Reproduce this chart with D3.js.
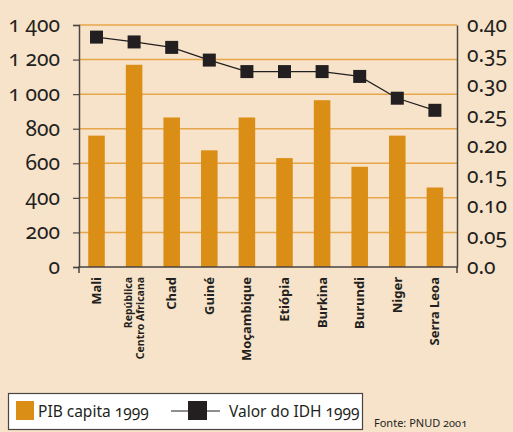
<!DOCTYPE html>
<html>
<head>
<meta charset="utf-8">
<script src="https://cdn.jsdelivr.net/npm/d3@7"></script>
<style>
  body { margin: 0; background: #f7e3c9; }
  svg { display: block; font-family: "Noto Sans", "Open Sans", sans-serif; }
  .num { font-family: "Noto Sans", sans-serif; font-variant-numeric: oldstyle-nums; font-feature-settings: "onum" 1; }
</style>
</head>
<body>
<div id="chart"></div>
<script>
// Chart data
const countries = ["Mali", "República|Centro Africana", "Chad", "Guiné", "Moçambique", "Etiópia", "Burkina", "Burundi", "Niger", "Serra Leoa"];
const pibCapita = [760, 1170, 865, 675, 865, 630, 965, 580, 760, 460];
const idh = [0.380, 0.372, 0.363, 0.342, 0.323, 0.323, 0.323, 0.315, 0.279, 0.259];
const leftTicks = [0, 200, 400, 600, 800, 1000, 1200, 1400];
const leftTickLabels = ["0", "200", "400", "600", "800", "1 000", "1 200", "1 400"];
const rightTicks = [0, 0.05, 0.10, 0.15, 0.20, 0.25, 0.30, 0.35, 0.40];
const rightTickLabels = ["0.0", "0.05", "0.10", "0.15", "0.20", "0.25", "0.30", "0.35", "0.40"];

const W = 513, H = 432;
const plot = { left: 79, right: 457, top: 25, bottom: 267 };

const svg = d3.select("#chart").append("svg")
  .attr("width", W).attr("height", H);

// scales
const x = d3.scaleBand()
  .domain(countries)
  .range([77.7, 453.7])
  .paddingInner(0.56)
  .paddingOuter(0.28);

const yLeft = d3.scaleLinear().domain([0, 1400]).range([plot.bottom, plot.top]);
const yRight = d3.scaleLinear().domain([0, 0.4]).range([plot.bottom, plot.top]);

// gridlines
svg.append("g")
  .selectAll("line")
  .data(leftTicks.slice(1))
  .enter()
  .append("line")
  .attr("x1", plot.left).attr("x2", plot.right)
  .attr("y1", d => yLeft(d)).attr("y2", d => yLeft(d))
  .attr("stroke", "#e8a64a")
  .attr("stroke-width", 1.5);

// bars
svg.append("g")
  .selectAll("rect")
  .data(countries)
  .enter()
  .append("rect")
  .attr("x", d => x(d))
  .attr("width", x.bandwidth())
  .attr("y", (d, i) => yLeft(pibCapita[i]))
  .attr("height", (d, i) => yLeft(0) - yLeft(pibCapita[i]))
  .attr("fill", "#db8e16");

// left axis
const leftAxis = svg.append("g")
  .attr("transform", `translate(${plot.left},0)`)
  .call(d3.axisLeft(yLeft).tickValues(leftTicks).tickSize(6).tickFormat((d, i) => leftTickLabels[i]));
leftAxis.attr("font-family", null).attr("font-size", null);
leftAxis.select(".domain").attr("stroke", "#4a4443").attr("stroke-width", 1.5);
leftAxis.selectAll(".tick line").attr("stroke", "#4a4443").attr("stroke-width", 1.2);
leftAxis.selectAll(".tick text")
  .attr("class", "num")
  .attr("x", -19)
  .attr("dy", "0.3em")
  .style("font-size", "21px")
  .style("fill", "#231f20");

// right axis
const rightAxis = svg.append("g")
  .attr("transform", `translate(${plot.right},0)`)
  .call(d3.axisRight(yRight).tickValues(rightTicks).tickSize(0).tickFormat((d, i) => rightTickLabels[i]));
rightAxis.attr("font-family", null).attr("font-size", null);
rightAxis.select(".domain").attr("stroke", "#4a4443").attr("stroke-width", 1.5);
rightAxis.selectAll(".tick text")
  .attr("class", "num")
  .attr("x", 10)
  .attr("dy", "0.3em")
  .style("font-size", "21px")
  .style("fill", "#231f20");

// bottom axis
const bottomAxis = svg.append("g")
  .attr("transform", `translate(0,${plot.bottom})`);
bottomAxis.append("path")
  .attr("d", `M${plot.left},6V0H${plot.right}V6`)
  .attr("fill", "none")
  .attr("stroke", "#4a4443")
  .attr("stroke-width", 1.5);

// category labels (rotated)
countries.forEach((c, i) => {
  const parts = c.split("|");
  const cx = x(c) + x.bandwidth() / 2;
  const g = svg.append("g")
    .attr("transform", `translate(${cx},${plot.bottom + 10}) rotate(-90)`);
  if (parts.length === 1) {
    g.append("text")
      .attr("text-anchor", "end")
      .attr("dy", "0.35em")
      .style("font-size", "13px")
      .style("font-weight", "bold")
      .style("fill", "#231f20")
      .text(parts[0]);
  } else {
    parts.forEach((p, j) => {
      g.append("text")
        .attr("text-anchor", "end")
        .attr("y", (j - 0.5) * 12.5)
        .attr("dy", "0.35em")
        .style("font-size", "10.5px")
        .style("font-weight", "bold")
        .style("fill", "#231f20")
        .text(p);
    });
  }
});

// IDH line
const line = d3.line()
  .x((d, i) => x(countries[i]) + x.bandwidth() / 2)
  .y(d => yRight(d));

svg.append("path")
  .datum(idh)
  .attr("d", line)
  .attr("fill", "none")
  .attr("stroke", "#231f20")
  .attr("stroke-width", 1.2);

const ms = 13;
svg.append("g")
  .selectAll("rect")
  .data(idh)
  .enter()
  .append("rect")
  .attr("x", (d, i) => x(countries[i]) + x.bandwidth() / 2 - ms / 2)
  .attr("y", d => yRight(d) - ms / 2)
  .attr("width", ms).attr("height", ms)
  .attr("fill", "#231f20");

// legend
const legend = svg.append("g");
legend.append("rect")
  .attr("x", 8.5).attr("y", 393.5)
  .attr("width", 354).attr("height", 36)
  .attr("fill", "#ffffff")
  .attr("stroke", "#4a4443")
  .attr("stroke-width", 1.2);
legend.append("rect")
  .attr("x", 16).attr("y", 401)
  .attr("width", 18).attr("height", 19)
  .attr("fill", "#db8e16");
legend.append("text")
  .attr("class", "num")
  .attr("x", 38).attr("y", 417)
  .style("font-size", "15.5px")
  .style("fill", "#231f20")
  .text("PIB capita 1999");
legend.append("line")
  .attr("x1", 171).attr("x2", 220)
  .attr("y1", 411).attr("y2", 411)
  .attr("stroke", "#231f20")
  .attr("stroke-width", 1.2);
legend.append("rect")
  .attr("x", 188).attr("y", 401)
  .attr("width", 19).attr("height", 19)
  .attr("fill", "#231f20");
legend.append("text")
  .attr("class", "num")
  .attr("x", 229).attr("y", 417)
  .style("font-size", "15.5px")
  .style("fill", "#231f20")
  .text("Valor do IDH 1999");

svg.append("text")
  .attr("class", "num")
  .attr("x", 374).attr("y", 427)
  .style("font-size", "11px")
  .style("fill", "#231f20")
  .text("Fonte: PNUD 2001");
</script>
</body>
</html>
